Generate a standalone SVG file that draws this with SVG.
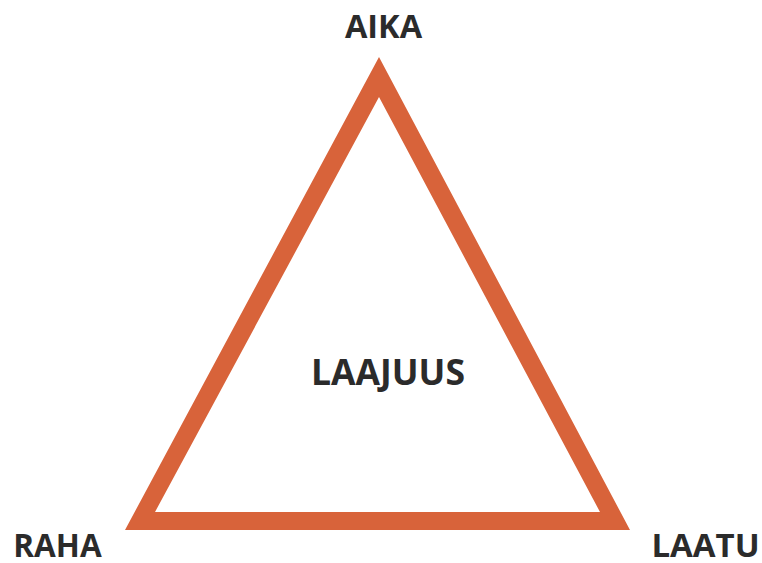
<svg xmlns="http://www.w3.org/2000/svg" width="762" height="563" viewBox="0 0 762 563">
<style>
.lbl{font-family:"Open Sans","Liberation Sans",sans-serif;font-weight:700;font-size:32px;fill:#2b2b2b}
.tri{fill:#D8633A;fill-rule:evenodd}
</style>
<rect width="762" height="563" fill="#ffffff"/>
<g id="triangle">
<path class="tri" d="M379,57 L630,530 L125,530 Z M379,97 L155,512 L600,512 Z"/>
</g>
<g id="aika"><text class="lbl" x="383.5" y="38" text-anchor="middle" style="font-size:32.5px">AIKA</text></g>
<g id="laajuus"><text class="lbl" x="388" y="385" text-anchor="middle" style="font-size:35.5px">LAAJUUS</text></g>
<g id="raha"><text class="lbl" x="57.5" y="557" text-anchor="middle" style="font-size:31.5px">RAHA</text></g>
<g id="laatu"><text class="lbl" x="705.5" y="557" text-anchor="middle" style="font-size:33px">LAATU</text></g>
<g id="connectors"></g>
</svg>
